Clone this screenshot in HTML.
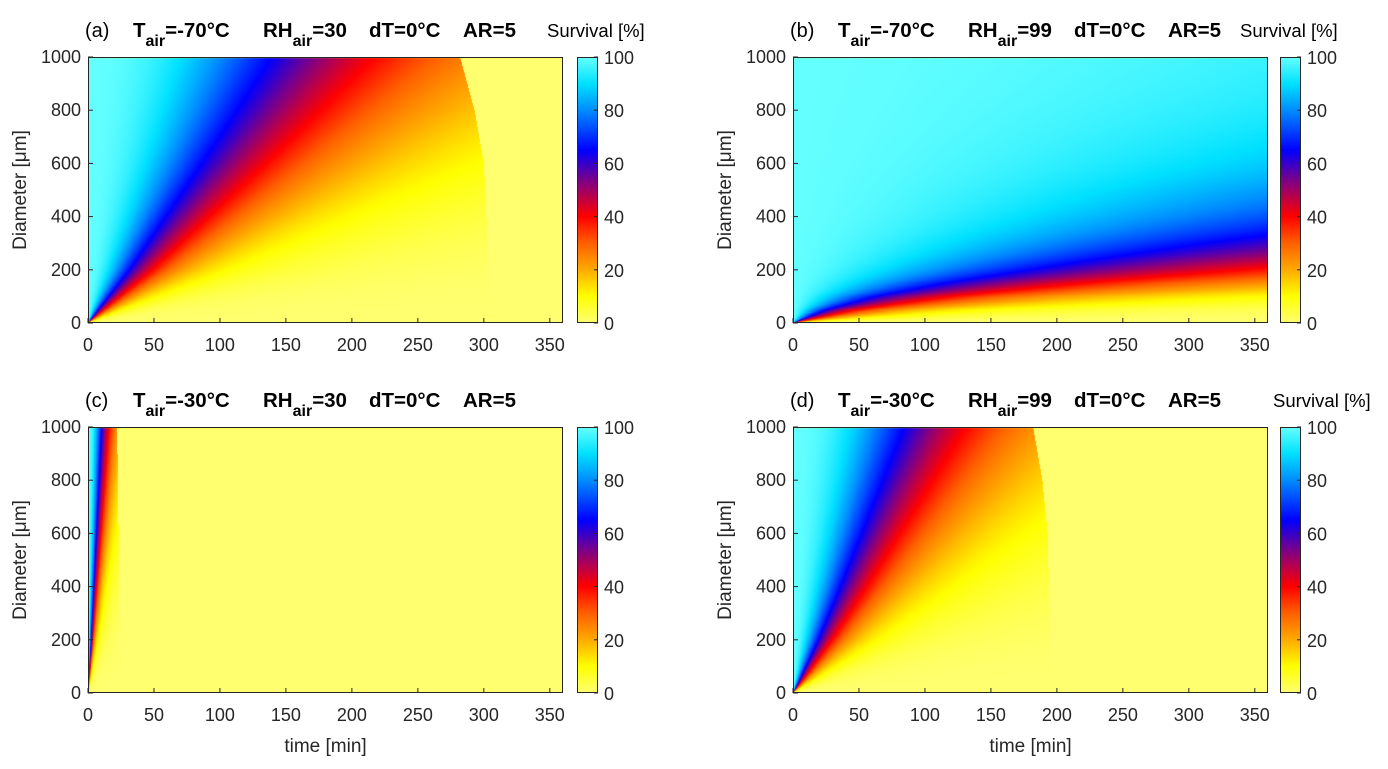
<!DOCTYPE html>
<html><head><meta charset="utf-8"><style>
html,body{margin:0;padding:0;background:#fff;}
#wrap{position:relative;width:1388px;height:769px;overflow:hidden;font-family:"Liberation Sans",Arial,sans-serif;}
canvas{position:absolute;}
svg{position:absolute;left:0;top:0;}
</style></head><body>
<div id="wrap">
<canvas id="ca" width="475" height="266" style="left:88px;top:57px"></canvas>
<canvas id="cb" width="475" height="266" style="left:793px;top:57px"></canvas>
<canvas id="cc" width="475" height="266" style="left:88px;top:427px"></canvas>
<canvas id="cd" width="475" height="266" style="left:793px;top:427px"></canvas>
<canvas id="ka" width="21" height="266" style="left:577px;top:57px"></canvas>
<canvas id="kb" width="21" height="266" style="left:1280px;top:57px"></canvas>
<canvas id="kc" width="21" height="266" style="left:577px;top:427px"></canvas>
<canvas id="kd" width="21" height="266" style="left:1280px;top:427px"></canvas>
<svg id="ov" width="1388" height="769"></svg>
</div>
<script>
// Data: half-survival time (min) versus diameter (um), sigmoid exponent, cutoff times
const diamA=[0,50,200,400,600,800,1000];
const t50A=[0,10,41,77,113,148,182];
const cutDA=[0,200,400,600,800,1000];
const cutTA=[303,303,302,300,293,282];
const diamB=[0,50,100,150,230,300,380,500,700,1000];
const t50B=[0,37,92,170,320,460,640,920,1500,2500];
const cutDB=[0,1000];
const cutTB=[9999,9999];
const diamC=[0,50,200,400,600,800,1000];
const t50C=[0,0.8,3,5.6,8.2,10.8,13.3];
const cutDC=[0,200,400,600,800,1000];
const cutTC=[23.5,23.5,23.4,23.2,22.7,22];
const diamD=[0,50,200,400,600,800,1000];
const t50D=[0,6.5,25,47,68,89,110];
const cutDD=[0,200,400,600,800,1000];
const cutTD=[195,195,194,193,189,182];
const expA=2.3, expB=1.6, expC=2.3, expD=2.3;
const xTicks=[0,50,100,150,200,250,300,350];
const yTicks=[0,200,400,600,800,1000];
const cTicks=[0,20,40,60,80,100];

const W=475,H=266,TMAX=360,DMAX=1000;
const cmStops=[[0,255,255,112],[10,255,255,0],[20,255,170,0],[30,255,95,0],[40,255,0,0],[47,190,0,70],[55,110,0,150],[65,0,0,255],[80,0,140,255],[90,0,225,255],[100,100,255,255]];
function cmap(v){v=Math.max(0,Math.min(100,v));for(let i=1;i<cmStops.length;i++){const a=cmStops[i-1],b=cmStops[i];if(v<=b[0]){const f=(v-a[0])/(b[0]-a[0]);return [a[1]+f*(b[1]-a[1]),a[2]+f*(b[2]-a[2]),a[3]+f*(b[3]-a[3])];}}return cmStops[cmStops.length-1].slice(1);}
function interp(xs,ys,x){if(x<=xs[0])return ys[0];for(let i=1;i<xs.length;i++){if(x<=xs[i]){const f=(x-xs[i-1])/(xs[i]-xs[i-1]);return ys[i-1]+f*(ys[i]-ys[i-1]);}}return ys[ys.length-1];}
function xScale(t){return t/TMAX*W;}
function yScale(d){return H-d/DMAX*H;}
function draw(id,diam,t50,n,cd,ct){
  const c=document.getElementById(id).getContext('2d');const img=c.createImageData(W,H);
  for(let py=0;py<H;py++){const D=(H-py-0.5)/H*DMAX;const th=interp(diam,t50,D);const tc=interp(cd,ct,D);
    for(let px=0;px<W;px++){const t=(px+0.5)/W*TMAX;let s;
      if(t>tc)s=0;else if(th<=0)s=0;else s=100/(1+Math.pow(t/th,n));
      if(py==0)s=12;
      const col=cmap(s);const k=(py*W+px)*4;img.data[k]=col[0];img.data[k+1]=col[1];img.data[k+2]=col[2];img.data[k+3]=255;}}
  c.putImageData(img,0,0);}
draw('ca',diamA,t50A,expA,cutDA,cutTA);
draw('cb',diamB,t50B,expB,cutDB,cutTB);
draw('cc',diamC,t50C,expC,cutDC,cutTC);
draw('cd',diamD,t50D,expD,cutDD,cutTD);
['ka','kb','kc','kd'].forEach(id=>{const c=document.getElementById(id).getContext('2d');for(let py=0;py<H;py++){const col=cmap(100-py/(H-1)*100);c.fillStyle=`rgb(${col[0]|0},${col[1]|0},${col[2]|0})`;c.fillRect(0,py,21,1);}});

const ov=document.getElementById('ov');const NS='http://www.w3.org/2000/svg';
function el(tag,attrs,txt){const e=document.createElementNS(NS,tag);for(const k in attrs)e.setAttribute(k,attrs[k]);if(txt!==undefined)e.textContent=txt;ov.appendChild(e);return e;}
const panels=[
 {L:88,T:57,lab:'(a)',Ta:'-70',RH:'30',cbL:577,surv:547,xlab:false},
 {L:793,T:57,lab:'(b)',Ta:'-70',RH:'99',cbL:1280,surv:1240,xlab:false},
 {L:88,T:427,lab:'(c)',Ta:'-30',RH:'30',cbL:577,surv:null,xlab:true},
 {L:793,T:427,lab:'(d)',Ta:'-30',RH:'99',cbL:1280,surv:1273,xlab:true}];
panels.forEach((p,i)=>{
  const ax=el('rect',{x:p.L+0.5,y:p.T+0.5,width:W-1,height:H-1,fill:'none',stroke:'#262626','stroke-width':1});
  
  xTicks.forEach(v=>{const x=p.L+xScale(v);
    el('line',{x1:x,x2:x,y1:p.T+H,y2:p.T+H-5,stroke:'#262626'});
    const t=el('text',{x:x,y:p.T+H+28,'text-anchor':'middle','font-size':18,fill:'#262626'},v);
    });
  yTicks.forEach(v=>{const y=p.T+yScale(v);
    el('line',{x1:p.L,x2:p.L+5,y1:y,y2:y,stroke:'#262626'});
    const t=el('text',{x:p.L-7,y:y+6,'text-anchor':'end','font-size':18,fill:'#262626'},v);
    });
  const cb=el('rect',{x:p.cbL+0.5,y:p.T+0.5,width:20,height:H-1,fill:'none',stroke:'#262626'});
  
  cTicks.forEach(v=>{const y=p.T+H-v/100*H;
    el('line',{x1:p.cbL+21,x2:p.cbL+17,y1:y,y2:y,stroke:'#262626'});
    const t=el('text',{x:p.cbL+27,y:y+7,'font-size':18,fill:'#262626'},v);
    });
  const tl=el('text',{x:p.L-3,y:p.T-20,'font-size':20,fill:'#000'},p.lab);
  
  const parts=[[45,'T','air','=' + p.Ta + '°C'],[175,'RH','air','=' + p.RH],[281,'dT=0°C','',''],[375,'AR=5','','']];
  parts.forEach(q=>{const t=el('text',{x:p.L+q[0],y:p.T-20,'font-size':20.5,'font-weight':'bold',fill:'#000'});
    
    const a=document.createElementNS(NS,'tspan');a.textContent=q[1];t.appendChild(a);
    if(q[2]){const s=document.createElementNS(NS,'tspan');s.setAttribute('dy','9');s.setAttribute('font-size','16');s.textContent=q[2];t.appendChild(s);
      const r=document.createElementNS(NS,'tspan');r.setAttribute('dy','-9');r.textContent=q[3];t.appendChild(r);}});
  if(p.surv){const s=el('text',{x:p.surv,y:p.T-20,'font-size':18.5,fill:'#000'},'Survival [%]');
    }
  const yl=el('text',{x:0,y:0,'font-size':19,fill:'#262626','text-anchor':'middle',transform:`translate(${p.L-62},${p.T+H/2}) rotate(-90)`},'Diameter [μm]');
  
  if(p.xlab){const xl=el('text',{x:p.L+W/2,y:p.T+H+59,'font-size':19,fill:'#262626','text-anchor':'middle'},'time [min]');
    }
});
</script>
</body></html>
